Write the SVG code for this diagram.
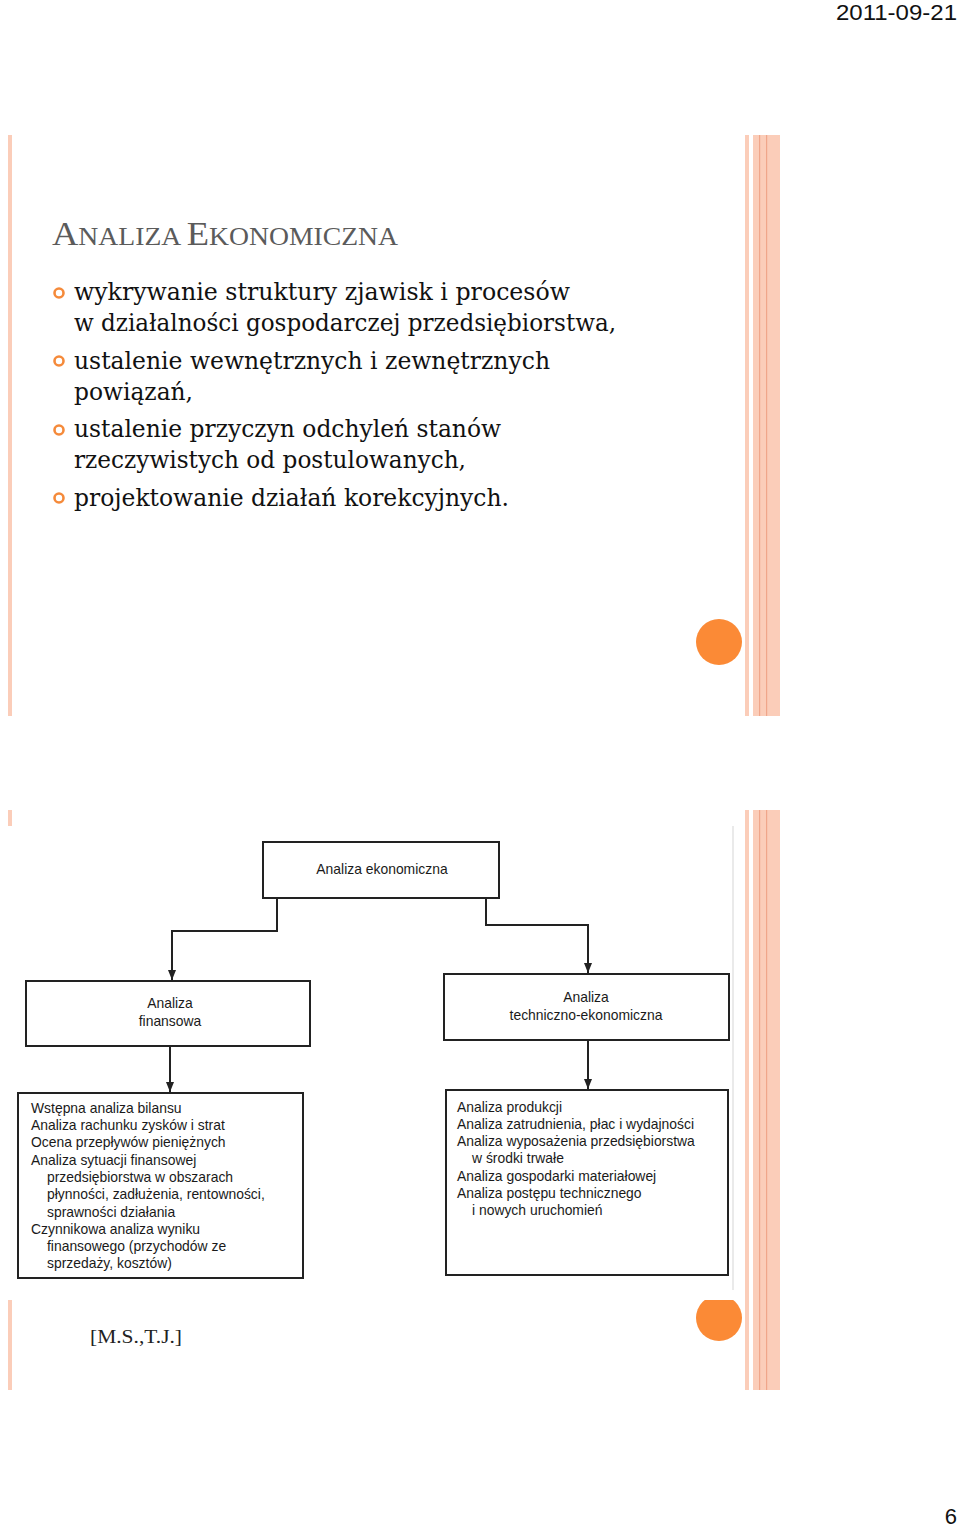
<svg xmlns="http://www.w3.org/2000/svg" width="960" height="1526" viewBox="0 0 960 1526">
<style>
.stripe{fill:#fbcdb9}
.dline{fill:#f0a68a}
.bul{font-family:"DejaVu Serif","Liberation Serif",serif;font-size:24px;fill:#111}
.ring{fill:none;stroke:#f58a3a;stroke-width:2.6}
.box{fill:#fff;stroke:#222;stroke-width:2}
.dt{font-family:"Liberation Sans",Arial,sans-serif;font-size:13.9px;fill:#1a1a1a}
.conn{fill:none;stroke:#222;stroke-width:2}
.dot{fill:#fb8a36}
</style>
<defs>
<marker id="arr" markerWidth="10" markerHeight="8" refX="10" refY="4" orient="auto" markerUnits="userSpaceOnUse" viewBox="0 0 10 8">
<path d="M0,0 L10,4 L0,8 Z" fill="#222"/>
</marker>
</defs>
<rect width="960" height="1526" fill="#fff"/>
<text x="957" y="20" text-anchor="end" font-family="Liberation Sans Narrow,Liberation Sans,sans-serif" font-size="22" fill="#111" textLength="121" lengthAdjust="spacingAndGlyphs">2011-09-21</text>
<text x="957" y="1524" text-anchor="end" font-family="Liberation Sans,sans-serif" font-size="22" fill="#111">6</text>

<!-- Slide 1 -->
<g id="slide1">
<rect class="stripe" x="8" y="135" width="4" height="581"/>
<rect class="stripe" x="745" y="135" width="4" height="581"/>
<rect class="stripe" x="753" y="135" width="27" height="581"/>
<rect class="dline" x="759" y="135" width="1.2" height="581"/>
<rect class="dline" x="766" y="135" width="1.2" height="581"/>
<circle class="dot" cx="719" cy="642" r="23"/>
<text x="52" y="245" font-family="Liberation Serif,serif" fill="#5b5b5b" textLength="346" lengthAdjust="spacingAndGlyphs"><tspan font-size="33">A</tspan><tspan font-size="25">NALIZA </tspan><tspan font-size="33">E</tspan><tspan font-size="25">KONOMICZNA</tspan></text>
<circle class="ring" cx="59" cy="293" r="4.5"/>
<circle class="ring" cx="59" cy="361" r="4.5"/>
<circle class="ring" cx="59" cy="430" r="4.5"/>
<circle class="ring" cx="59" cy="498" r="4.5"/>
<text class="bul" x="74" y="300" textLength="496" lengthAdjust="spacingAndGlyphs">wykrywanie struktury zjawisk i procesów</text>
<text class="bul" x="74" y="331" textLength="542" lengthAdjust="spacingAndGlyphs">w działalności gospodarczej przedsiębiorstwa,</text>
<text class="bul" x="74" y="369" textLength="476" lengthAdjust="spacingAndGlyphs">ustalenie wewnętrznych i zewnętrznych</text>
<text class="bul" x="74" y="400" textLength="119" lengthAdjust="spacingAndGlyphs">powiązań,</text>
<text class="bul" x="74" y="437" textLength="427" lengthAdjust="spacingAndGlyphs">ustalenie przyczyn odchyleń stanów</text>
<text class="bul" x="74" y="468" textLength="392" lengthAdjust="spacingAndGlyphs">rzeczywistych od postulowanych,</text>
<text class="bul" x="74" y="506" textLength="435" lengthAdjust="spacingAndGlyphs">projektowanie działań korekcyjnych.</text>
</g>

<!-- Slide 2 background -->
<g id="slide2">
<rect class="stripe" x="8" y="810" width="4" height="16"/>
<rect class="stripe" x="8" y="1300" width="4" height="90"/>
<rect class="stripe" x="745" y="810" width="4" height="580"/>
<rect class="stripe" x="753" y="810" width="27" height="580"/>
<rect class="dline" x="759" y="810" width="1.2" height="580"/>
<rect class="dline" x="766" y="810" width="1.2" height="580"/>
<circle class="dot" cx="719" cy="1318" r="23"/>
<rect x="12" y="826" width="727" height="474" fill="#fff"/>
<line x1="733" y1="826" x2="733" y2="1290" stroke="#eaeaea" stroke-width="2"/>
<text x="90" y="1343" font-family="Liberation Serif,serif" font-size="19" fill="#222" textLength="92" lengthAdjust="spacingAndGlyphs">[M.S.,T.J.]</text>
</g>

<g id="connectors">
<polyline class="conn" points="277,898 277,931 172,931 172,980" marker-end="url(#arr)"/>
<polyline class="conn" points="486,898 486,925 588,925 588,973" marker-end="url(#arr)"/>
<line class="conn" x1="170" y1="1046" x2="170" y2="1092" marker-end="url(#arr)"/>
<line class="conn" x1="588" y1="1040" x2="588" y2="1089" marker-end="url(#arr)"/>
</g>

<g id="n-ekonomiczna">
<rect class="box" x="263" y="842" width="236" height="56"/>
<text class="dt" x="382" y="874" text-anchor="middle">Analiza ekonomiczna</text>
</g>
<g id="n-finansowa">
<rect class="box" x="26" y="981" width="284" height="65"/>
<text class="dt" x="170" y="1008" text-anchor="middle">Analiza</text>
<text class="dt" x="170" y="1026" text-anchor="middle">finansowa</text>
</g>
<g id="n-techniczna">
<rect class="box" x="444" y="974" width="285" height="66"/>
<text class="dt" x="586" y="1002" text-anchor="middle">Analiza</text>
<text class="dt" x="586" y="1020" text-anchor="middle">techniczno-ekonomiczna</text>
</g>
<g id="n-fin-lista">
<rect class="box" x="18" y="1093" width="285" height="185"/>
<text class="dt" x="31" y="1113">Wstępna analiza bilansu</text>
<text class="dt" x="31" y="1130">Analiza rachunku zysków i strat</text>
<text class="dt" x="31" y="1147">Ocena przepływów pieniężnych</text>
<text class="dt" x="31" y="1165">Analiza sytuacji finansowej</text>
<text class="dt" x="47" y="1182">przedsiębiorstwa w obszarach</text>
<text class="dt" x="47" y="1199">płynności, zadłużenia, rentowności,</text>
<text class="dt" x="47" y="1217">sprawności działania</text>
<text class="dt" x="31" y="1234">Czynnikowa analiza wyniku</text>
<text class="dt" x="47" y="1251">finansowego (przychodów ze</text>
<text class="dt" x="47" y="1268">sprzedaży, kosztów)</text>
</g>
<g id="n-tech-lista">
<rect class="box" x="446" y="1090" width="282" height="185"/>
<text class="dt" x="457" y="1112">Analiza produkcji</text>
<text class="dt" x="457" y="1129">Analiza zatrudnienia, płac i wydajności</text>
<text class="dt" x="457" y="1146">Analiza wyposażenia przedsiębiorstwa</text>
<text class="dt" x="472" y="1163">w środki trwałe</text>
<text class="dt" x="457" y="1181">Analiza gospodarki materiałowej</text>
<text class="dt" x="457" y="1198">Analiza postępu technicznego</text>
<text class="dt" x="472" y="1215">i nowych uruchomień</text>
</g>
</svg>
